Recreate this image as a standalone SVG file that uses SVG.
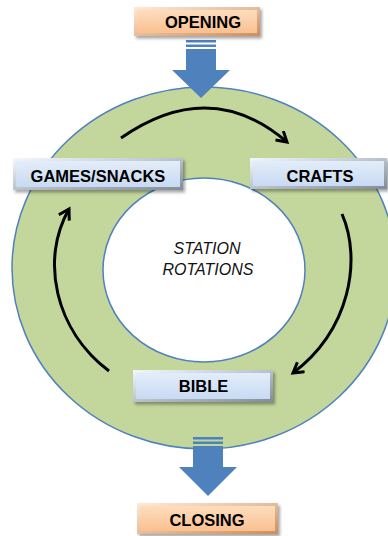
<svg xmlns="http://www.w3.org/2000/svg" width="388" height="536" viewBox="0 0 388 536">
<defs>
<linearGradient id="gOr" x1="0" y1="0" x2="0" y2="1"><stop offset="0" stop-color="#FDDDBE"/><stop offset="1" stop-color="#FAC090"/></linearGradient>
<linearGradient id="gOrE" x1="0" y1="0" x2="1" y2="1"><stop offset="0" stop-color="#FEEBD8"/><stop offset="1" stop-color="#C98F5E"/></linearGradient>
<linearGradient id="gBl" x1="0" y1="0" x2="0" y2="1"><stop offset="0" stop-color="#E3EDFA"/><stop offset="1" stop-color="#C8DAF2"/></linearGradient>
<linearGradient id="gBlE" x1="0" y1="0" x2="1" y2="1"><stop offset="0" stop-color="#F4F8FD"/><stop offset="1" stop-color="#7F8C99"/></linearGradient>
<filter id="sh" x="-10%" y="-20%" width="130%" height="160%"><feDropShadow dx="2" dy="2.5" stdDeviation="1.5" flood-color="#000" flood-opacity="0.35"/></filter>
<marker id="ah" markerUnits="userSpaceOnUse" markerWidth="16" markerHeight="16" refX="12" refY="7" orient="auto" viewBox="0 0 16 16">
<path d="M2,1 L12,7 L2,13" fill="none" stroke="#000" stroke-width="3"/>
</marker>
<style>
.lbl{font-family:"Liberation Sans",Arial,sans-serif;font-weight:bold;font-size:16.5px;fill:#000;text-anchor:middle}
.ctr{font-family:"Liberation Sans",Arial,sans-serif;font-style:italic;font-size:16px;fill:#111;text-anchor:middle}
.blk{fill:#4F81BD}
.cur{fill:none;stroke:#000;stroke-width:3;marker-end:url(#ah)}
</style>
</defs>
<rect width="388" height="536" fill="#fff"/>
<g id="ring">
<path d="M12,268 A192,181 0 1,0 396,268 A192,181 0 1,0 12,268 Z M103,270 A101,92 0 1,1 305,270 A101,92 0 1,1 103,270 Z" fill="#C3D69B" fill-rule="evenodd" stroke="#4F81BD" stroke-width="1.5"/>
<text class="ctr" x="207" y="254">STATION</text>
<text class="ctr" x="208" y="275">ROTATIONS</text>
</g>
<g id="connectors">
<g id="arrow-open">
<rect class="blk" x="186" y="40" width="30" height="2.5"/>
<rect class="blk" x="186" y="44.5" width="30" height="2.5"/>
<path class="blk" d="M186,49 H216 V70 H230 L201,98 L172,70 H186 Z"/>
</g>
<g id="arrow-close">
<rect class="blk" x="193" y="437" width="30" height="2.5"/>
<rect class="blk" x="193" y="441.5" width="30" height="2.5"/>
<path class="blk" d="M193,446 H223 V467 H237 L208,496 L179,467 H193 Z"/>
</g>
<path class="cur" d="M121,138 Q210,76 287,142"/>
<path class="cur" d="M342,214 C362,260 350,330 293,373"/>
<path class="cur" d="M109,371 C55,330 40,260 69,209"/>
</g>
<g id="opening">
<rect x="134" y="7" width="126" height="29" fill="url(#gOrE)" filter="url(#sh)"/>
<rect x="137" y="10" width="120" height="23" fill="url(#gOr)"/>
<text class="lbl" x="203" y="28">OPENING</text>
</g>
<g id="games">
<rect x="13" y="158" width="170" height="32" fill="url(#gBlE)" filter="url(#sh)"/>
<rect x="16" y="161" width="164" height="26" fill="url(#gBl)"/>
<text class="lbl" x="98" y="182">GAMES/SNACKS</text>
</g>
<g id="crafts">
<rect x="250" y="158" width="137" height="31" fill="url(#gBlE)" filter="url(#sh)"/>
<rect x="253" y="161" width="131" height="25" fill="url(#gBl)"/>
<text class="lbl" x="320" y="182">CRAFTS</text>
</g>
<g id="bible">
<rect x="133" y="370" width="140" height="32" fill="url(#gBlE)" filter="url(#sh)"/>
<rect x="136" y="373" width="134" height="26" fill="url(#gBl)"/>
<text class="lbl" x="203.5" y="392">BIBLE</text>
</g>
<g id="closing">
<rect x="137" y="503" width="141" height="31" fill="url(#gOrE)" filter="url(#sh)"/>
<rect x="140" y="506" width="135" height="25" fill="url(#gOr)"/>
<text class="lbl" x="207" y="526">CLOSING</text>
</g>
</svg>
